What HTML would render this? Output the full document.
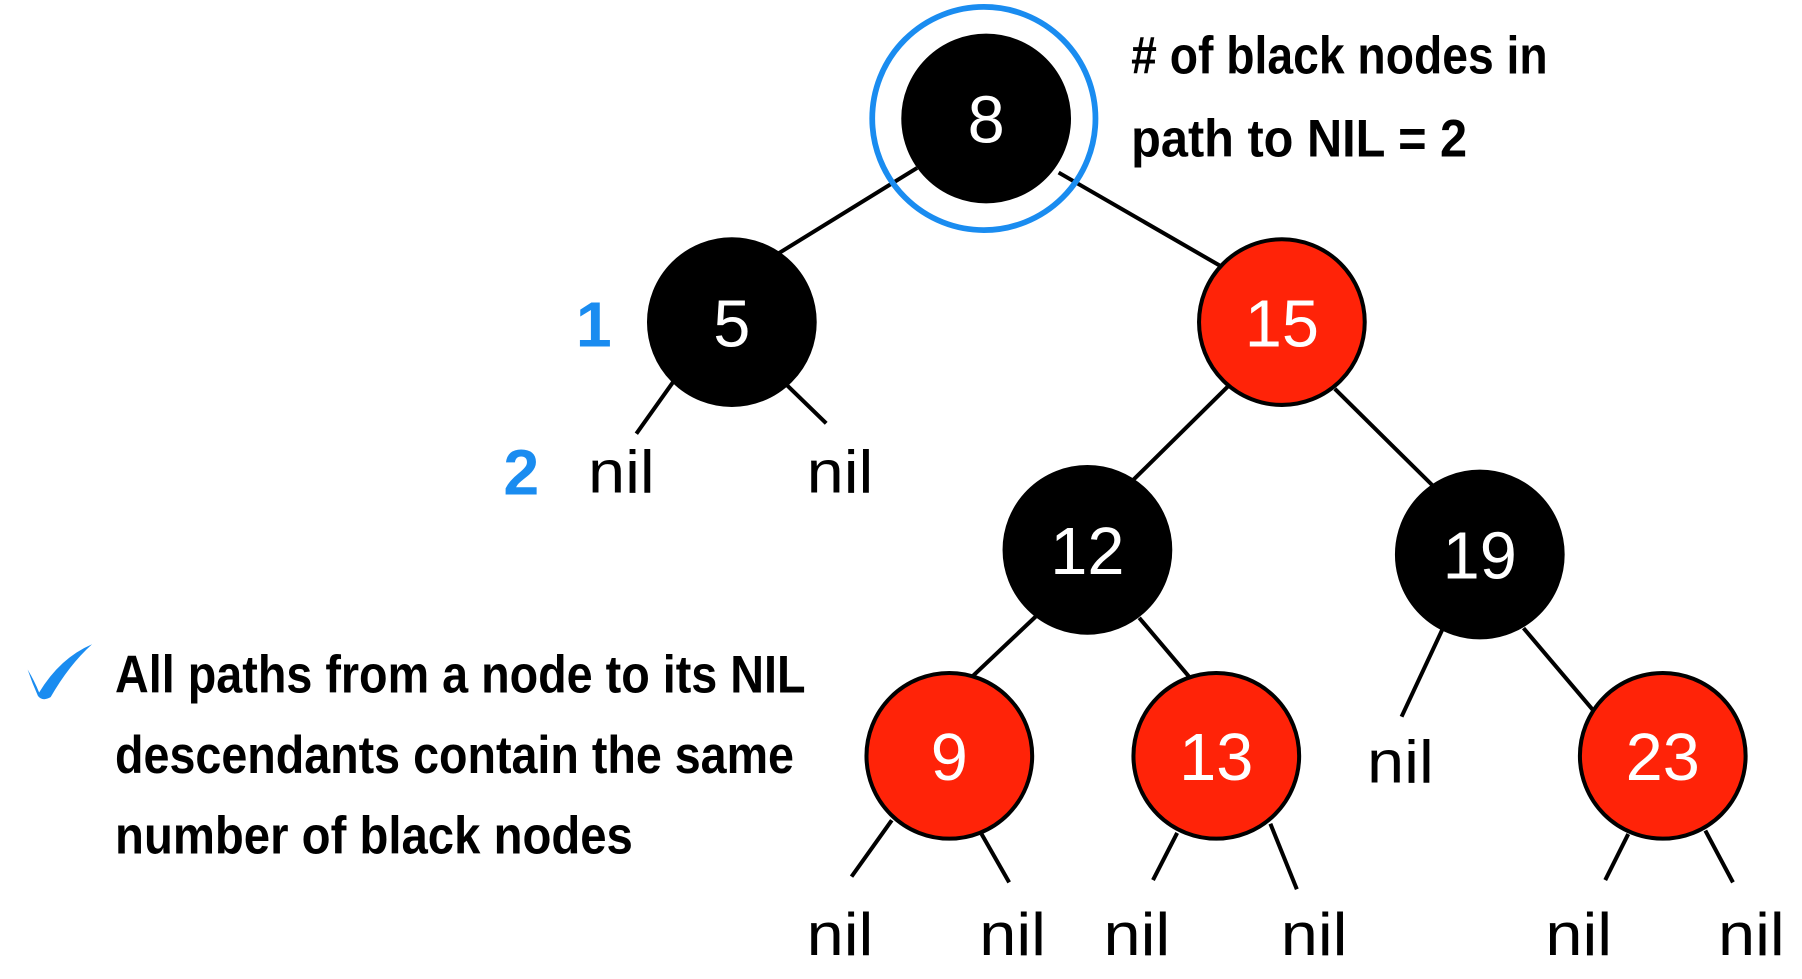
<!DOCTYPE html>
<html><head><meta charset="utf-8"><style>
html,body{margin:0;padding:0;background:#fff;}
svg{display:block;}
text{font-family:"Liberation Sans",sans-serif;}
</style></head><body>
<svg width="1802" height="979" viewBox="0 0 1566 851" preserveAspectRatio="none" xmlns="http://www.w3.org/2000/svg">
<g stroke="#000" stroke-width="3.5" fill="none">
<line x1="797" y1="146" x2="677" y2="220"/>
<line x1="920" y1="150" x2="1062" y2="232"/>
<line x1="585" y1="332" x2="553" y2="377"/>
<line x1="683" y1="334" x2="718" y2="368"/>
<line x1="1067" y1="336" x2="985" y2="417"/>
<line x1="1160" y1="338" x2="1246" y2="423"/>
<line x1="900" y1="536" x2="845" y2="588"/>
<line x1="990" y1="537" x2="1034" y2="589"/>
<line x1="1254" y1="546" x2="1218" y2="623"/>
<line x1="1324" y1="546" x2="1385" y2="618"/>
<line x1="775" y1="713" x2="740" y2="762"/>
<line x1="853" y1="725" x2="877" y2="767"/>
<line x1="1023" y1="724" x2="1002" y2="765"/>
<line x1="1104" y1="716" x2="1127" y2="773"/>
<line x1="1415" y1="725" x2="1395" y2="765"/>
<line x1="1482" y1="722" x2="1506" y2="767"/>
</g>
<circle cx="855" cy="103" r="97" fill="none" stroke="#1a8cf0" stroke-width="5"/>
<g stroke="#000" stroke-width="3.5">
<circle cx="857" cy="103" r="72" fill="#000"/>
<circle cx="636" cy="280" r="72" fill="#000"/>
<circle cx="1114" cy="280" r="72" fill="#ff2308"/>
<circle cx="945" cy="478" r="72" fill="#000"/>
<circle cx="1286" cy="482" r="72" fill="#000"/>
<circle cx="825" cy="657" r="72" fill="#ff2308"/>
<circle cx="1057" cy="657" r="72" fill="#ff2308"/>
<circle cx="1445" cy="657" r="72" fill="#ff2308"/>
</g>
<g fill="#fff" font-size="58" text-anchor="middle">
<text x="857" y="124">8</text>
<text x="636" y="301">5</text>
<text x="1114" y="301">15</text>
<text x="945" y="499">12</text>
<text x="1286" y="503">19</text>
<text x="825" y="678">9</text>
<text x="1057" y="678">13</text>
<text x="1445" y="678">23</text>
</g>
<g fill="#000" font-size="52" text-anchor="middle">
<text x="540" y="428" textLength="58" lengthAdjust="spacingAndGlyphs">nil</text>
<text x="730" y="428" textLength="58" lengthAdjust="spacingAndGlyphs">nil</text>
<text x="1217" y="680" textLength="58" lengthAdjust="spacingAndGlyphs">nil</text>
<text x="730" y="830" textLength="58" lengthAdjust="spacingAndGlyphs">nil</text>
<text x="880" y="830" textLength="58" lengthAdjust="spacingAndGlyphs">nil</text>
<text x="988" y="830" textLength="58" lengthAdjust="spacingAndGlyphs">nil</text>
<text x="1142" y="830" textLength="58" lengthAdjust="spacingAndGlyphs">nil</text>
<text x="1372" y="830" textLength="58" lengthAdjust="spacingAndGlyphs">nil</text>
<text x="1522" y="830" textLength="58" lengthAdjust="spacingAndGlyphs">nil</text>
</g>
<g fill="#1a8cf0" font-size="56" font-weight="bold" text-anchor="middle">
<text x="516" y="301">1</text>
<text x="453" y="430">2</text>
</g>
<g fill="#000" font-size="46" font-weight="bold">
<text x="983" y="64" textLength="362" lengthAdjust="spacingAndGlyphs">#  of black nodes in</text>
<text x="983" y="136" textLength="292" lengthAdjust="spacingAndGlyphs">path to NIL = 2</text>
<text x="100" y="602" textLength="600" lengthAdjust="spacingAndGlyphs">All paths from a node to its NIL</text>
<text x="100" y="672" textLength="590" lengthAdjust="spacingAndGlyphs">descendants contain the same</text>
<text x="100" y="742" textLength="450" lengthAdjust="spacingAndGlyphs">number of black nodes</text>
</g>
<path d="M24 582 Q30 592 34 602 Q52 572 80 560 Q60 578 44 606 Q37 610 33 605 Q28 594 24 582 Z" fill="#1a8cf0"/>
</svg>
</body></html>
